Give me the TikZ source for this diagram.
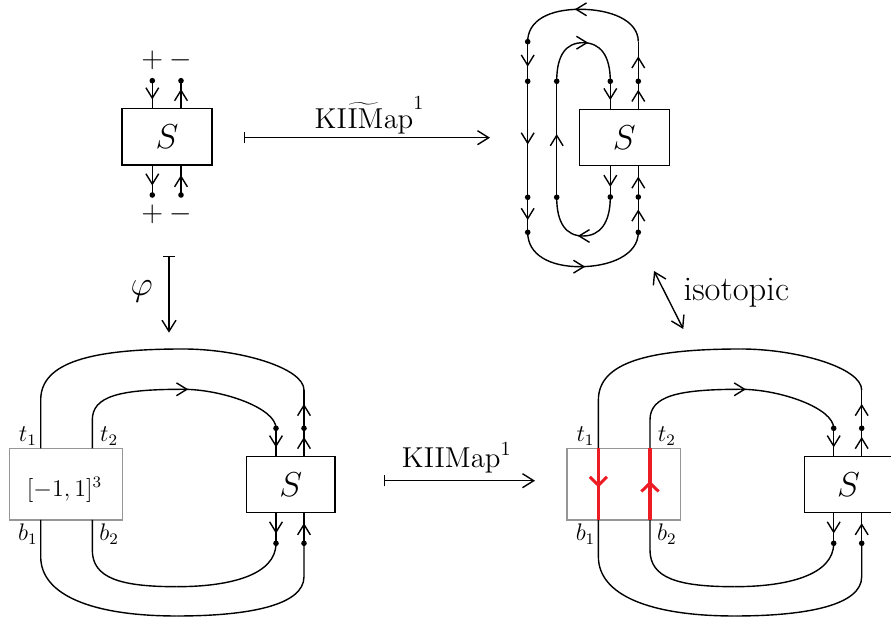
\documentclass[tikz,border=0pt]{standalone}
\usetikzlibrary{arrows.meta,decorations.markings}
\definecolor{knotred}{RGB}{237,28,36}
\definecolor{boxgray}{RGB}{150,150,150}
\tikzset{
  mytip/.tip={Straight Barb[length=5.2pt,width=6.4pt,line width=0.7pt]},
  bigtip/.tip={Straight Barb[length=5.6pt,width=7pt,line width=0.7pt]},
  redtip/.tip={Straight Barb[length=4.2pt,width=8.6pt,line width=1.5pt]},
  strand/.style={line width=0.7pt},
  redstrand/.style={line width=1.6pt, draw=knotred},
  midarr/.style={postaction={decorate,decoration={markings,
     mark=at position 0.5 with {\pgftransformxshift{2.6pt}\arrow{mytip}}}}},
  endarr/.style={postaction={decorate,decoration={markings,
     mark=at position 1 with {\pgftransformxshift{2.6pt}\arrow{mytip}}}}},
  redarr/.style={postaction={decorate,decoration={markings,
     mark=at position 0.5 with {\pgftransformxshift{1.6pt}\arrow[knotred]{redtip}}}}},
  sbox/.style={draw, line width=0.7pt, minimum width=45pt, minimum height=28.2pt, inner sep=0pt, font=\LARGE},
  graybox/.style={draw=boxgray, line width=0.75pt, minimum width=56.7pt, minimum height=35.85pt, inner sep=0pt},
  knotdot/.style={circle, fill, inner sep=0pt, minimum size=2.8pt},
  lab/.style={inner sep=0pt, font=\large},
  signlab/.style={inner sep=0pt, font=\Large},
  maplab/.style={inner sep=0pt, font=\Large},
  maparrow/.style={line width=0.7pt, {Bar[width=5.6pt]}-{bigtip}},
}
\newcommand\bottomdiagram[2]{% #1 x shift, #2 name prefix
\begin{scope}[shift={(#1,0)}]
  \node[graybox] (#2G) at (66,484.2) {};
  \node[sbox, minimum width=44.15pt, minimum height=28pt] (#2S) at (290.85,484.7) {$S$};
  \coordinate (#2t1) at (40.7,448.3);
  \coordinate (#2t2) at (92.3,448.3);
  \coordinate (#2b1) at (40.7,520);
  \coordinate (#2b2) at (92.3,520);
  \node[knotdot] (#2R1) at (276,428.3) {};
  \node[knotdot] (#2T1) at (304,428.3) {};
  \node[knotdot] (#2R2) at (276,543.3) {};
  \node[knotdot] (#2T2) at (304,543.3) {};
  \coordinate (#2P1) at (183,349);
  \coordinate (#2P2) at (183,389.3);
  \coordinate (#2P3) at (176.7,586.7);
  \coordinate (#2P4) at (176.7,616);
  % outer top
  \draw[strand,midarr] (#2T1 |- #2S.north) -- (#2T1.center);
  \draw[strand,midarr] (#2T1.center) -- (304,390);
  \draw[strand,endarr] (304,390) .. controls (304,368) and (240,349) .. (#2P1);
  \draw[strand] (#2P1) .. controls (92,349) and (40.7,362) .. (40.7,400) -- (#2t1);
  % inner top
  \draw[strand,endarr] (#2t2) -- (92.3,420) .. controls (92.3,396) and (120,389.3) .. (#2P2);
  \draw[strand] (#2P2) .. controls (222,389.3) and (276,408) .. (#2R1.center);
  \draw[strand,midarr] (#2R1.center) -- (#2R1 |- #2S.north);
  % inner bottom
  \draw[strand,midarr] (#2R2 |- #2S.south) -- (#2R2.center);
  \draw[strand,endarr] (#2R2.center) .. controls (276,575) and (230,586.7) .. (#2P3);
  \draw[strand] (#2P3) .. controls (120,586.7) and (92.3,578) .. (92.3,550) -- (#2b2);
  % outer bottom
  \draw[strand,endarr] (#2b1) -- (40.7,556.7) .. controls (40.7,595) and (92,616) .. (#2P4);
  \draw[strand] (#2P4) .. controls (250,616) and (304,605) .. (304,576.7) -- (#2T2.center);
  \draw[strand,midarr] (#2T2.center) -- (#2T2 |- #2S.south);
  % labels
  \node[lab, anchor=base] (#2lt1) at (27.8,441.7) {$t_1$};
  \node[lab, anchor=base] (#2lt2) at (109.2,441.7) {$t_2$};
  \node[lab, anchor=base] (#2lb1) at (27.8,540.5) {$b_1$};
  \node[lab, anchor=base] (#2lb2) at (109.2,540.5) {$b_2$};
\end{scope}}
\begin{document}
\begin{tikzpicture}[x=0.5pt,y=-0.5pt]
\useasboundingbox (0,0) rectangle (891,624);
\clip (0,0) rectangle (891,624);
% ---------- top left ----------
\node[sbox] (S1) at (167,136.7) {$S$};
\node[knotdot] (a1) at (152.3,80.7) {};
\node[knotdot] (a2) at (181,80.7) {};
\node[knotdot] (a3) at (152.3,195) {};
\node[knotdot] (a4) at (181,195) {};
\draw[strand,midarr] (a1.center) -- (a1 |- S1.north);
\draw[strand,midarr] (a2 |- S1.north) -- (a2.center);
\draw[strand,midarr] (a3 |- S1.south) -- (a3.center);
\draw[strand,midarr] (a4.center) -- (a4 |- S1.south);
\node[signlab] (sp1) at (152.3,60.5) {$+$};
\node[signlab] (sm1) at (181,60.5) {$-$};
\node[signlab] (sp2) at (152.3,214.5) {$+$};
\node[signlab] (sm2) at (181,214.5) {$-$};
% ---------- map 1 ----------
\coordinate (k1s) at (244,137.7);
\coordinate (k1e) at (490,137.7);
\draw[maparrow] (k1s) -- (k1e);
\node[maplab, anchor=base] (k1l) at (369.5,128.3) {$\widetilde{\mathrm{KIIMap}}^1$};
% ---------- top right ----------
\node[sbox] (S2) at (624.3,137.5) {$S$};
\node[knotdot] (A1) at (527.7,41.7) {};
\node[knotdot] (A2) at (527.7,81.3) {};
\node[knotdot] (A3) at (527.7,197.3) {};
\node[knotdot] (A4) at (527.7,232.3) {};
\node[knotdot] (B1) at (556.7,81.3) {};
\node[knotdot] (B2) at (556.7,197.3) {};
\node[knotdot] (C1) at (610.3,81.3) {};
\node[knotdot] (C2) at (610.3,197) {};
\node[knotdot] (D1) at (638.3,81.3) {};
\node[knotdot] (D2) at (638.3,197) {};
\node[knotdot] (D3) at (638.3,232.3) {};
\coordinate (D0) at (638.3,41.7);
\draw[strand,midarr] (A1.center) -- (A2.center);
\draw[strand,midarr] (A2.center) -- (A3.center);
\draw[strand,midarr] (A3.center) -- (A4.center);
\draw[strand,midarr] (B2.center) -- (B1.center);
\draw[strand,midarr] (C1.center) -- (C1 |- S2.north);
\draw[strand,midarr] (C2 |- S2.south) -- (C2.center);
\draw[strand,midarr] (D1.center) -- (D0);
\draw[strand,midarr] (D1 |- S2.north) -- (D1.center);
\draw[strand,midarr] (D2.center) -- (D2 |- S2.south);
\draw[strand,midarr] (D3.center) -- (D2.center);
\coordinate (Q1) at (580,9.3);
\draw[strand,endarr] (D0) .. controls (638.3,20) and (610,9.3) .. (Q1);
\draw[strand] (Q1) .. controls (550,9.3) and (527.7,20) .. (A1.center);
\coordinate (Q2) at (583,42.7);
\draw[strand,endarr] (B1.center) .. controls (556.7,55) and (566,42.7) .. (Q2);
\draw[strand] (Q2) .. controls (600,42.7) and (610.3,55) .. (C1.center);
\coordinate (Q3) at (583,236);
\draw[strand,endarr] (C2.center) .. controls (610.3,223) and (600,236) .. (Q3);
\draw[strand] (Q3) .. controls (566,236) and (556.7,223) .. (B2.center);
\coordinate (Q4) at (580,266.7);
\draw[strand,endarr] (A4.center) .. controls (527.7,255) and (550,266.7) .. (Q4);
\draw[strand] (Q4) .. controls (610,266.7) and (638.3,255) .. (D3.center);
% ---------- phi ----------
\coordinate (f1) at (169,255.7);
\coordinate (f2) at (169,332.7);
\draw[maparrow] (f1) -- (f2);
\node[inner sep=0pt, font=\LARGE] (fl) at (141.7,291.7) {$\varphi$};
% ---------- isotopic ----------
\coordinate (i1) at (654,271);
\coordinate (i2) at (683.3,329);
\draw[strand,{bigtip}-{bigtip}] (i1) -- (i2);
\node[inner sep=0pt, font=\LARGE, anchor=base west] (il) at (683.3,300.7) {isotopic};
% ---------- bottom ----------
\bottomdiagram{0}{L}
\node[inner sep=0pt, font=\large, anchor=base] (cube) at (64.5,496.7) {$[-1,1]^3$};
\coordinate (k2s) at (384,480.7);
\coordinate (k2e) at (535,480.7);
\draw[maparrow] (k2s) -- (k2e);
\node[maplab, anchor=base] (k2l) at (456.7,467.3) {$\mathrm{KIIMap}^1$};
\bottomdiagram{557.7}{R}
\draw[redstrand,redarr] (Rt1) -- (Rb1);
\draw[redstrand,redarr] (Rb2) -- (Rt2);
\end{tikzpicture}
\end{document}
